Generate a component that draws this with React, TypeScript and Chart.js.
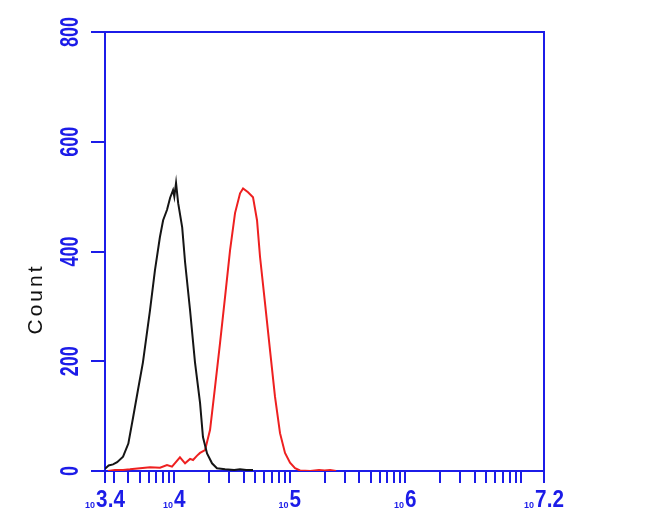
import React, { useEffect, useRef } from "react";
import { Chart, registerables } from "chart.js";

Chart.register(...registerables);

// ---- data (fluorescence intensity, count) ----
const BLACK_X = [2512, 2700, 2950, 3200, 3600, 4000, 4400, 4850, 5350, 6150, 6800, 7500, 8000, 8650, 9200, 9750, 10000, 10350, 10800, 11700, 12400, 13700, 15100, 16700, 17700, 19200, 21200, 23400, 27500, 33000, 37000, 42000, 48000];
const BLACK_Y = [4, 10, 12, 16, 26, 50, 98, 148, 198, 292, 366, 426, 457, 476, 498, 512, 500, 525, 488, 444, 380, 292, 198, 124, 62, 32, 14, 5, 3, 2, 3, 2, 2];

const RED_X = [2667, 3066, 3600, 4130, 5047, 6163, 7520, 8646, 9550, 11190, 12389, 13685, 14520, 15740, 16698, 18450, 20390, 22510, 24870, 27480, 30360, 33540, 37070, 39370, 43480, 47980, 51990, 55220, 60970, 67380, 74430, 82220, 90830, 100350, 110900, 122500, 150000, 179000, 200000, 222800, 251000];
const RED_Y = [0, 2, 2, 3, 5, 7, 6, 11, 8, 25, 14, 22, 20, 28, 33, 38, 75, 153, 233, 317, 402, 470, 506, 515, 508, 499, 457, 390, 306, 220, 135, 69, 33, 15, 5, 1, 0, 2, 1, 2, 0];

// ---- axes ----
const X_MIN = 2511.886;
const X_MAX = 15848932;
const X_TICKS = [2511.886, 3000, 4000, 5000, 6000, 7000, 8000, 9000,
  10000, 20000, 30000, 40000, 50000, 60000, 70000, 80000, 90000,
  100000, 200000, 300000, 400000, 500000, 600000, 700000, 800000, 900000,
  1000000, 2000000, 3000000, 4000000, 5000000, 6000000, 7000000, 8000000, 9000000,
  10000000, 15848932];
const X_LABEL_VALUES = [2511.886, 10000, 100000, 1000000, 15848932];
const X_LABEL_EXPONENTS = ["3.4", "4", "5", "6", "7.2"];
const Y_TICKS = [0, 200, 400, 600, 800];
const Y_TITLE = "Count";

const BLUE = "rgb(28,28,232)";

const labelPlugin = {
  id: "facsLabels",
  afterDraw(chart: any) {
    const ctx = chart.ctx as CanvasRenderingContext2D;
    const { left, right, top, bottom } = chart.chartArea;
    const xs = chart.scales.x;
    const ys = chart.scales.y;
    ctx.save();
    // top and right frame
    ctx.strokeStyle = BLUE;
    ctx.lineWidth = 2;
    ctx.beginPath();
    ctx.moveTo(left, top);
    ctx.lineTo(right, top);
    ctx.lineTo(right, bottom);
    ctx.stroke();

    // y tick labels (rotated, condensed)
    ctx.fillStyle = BLUE;
    ctx.font = "bold 25px 'Liberation Sans', Arial, sans-serif";
    ctx.textAlign = "center";
    ctx.textBaseline = "alphabetic";
    for (const v of Y_TICKS) {
      const py = ys.getPixelForValue(v);
      ctx.save();
      ctx.translate(70, py);
      ctx.rotate(-Math.PI / 2);
      ctx.scale(0.72, 1);
      ctx.fillText(String(v), 0, 0);
      ctx.restore();
    }

    // y title
    ctx.save();
    ctx.fillStyle = "#111";
    ctx.font = "21px 'Liberation Sans', Arial, sans-serif";
    (ctx as any).letterSpacing = "3px";
    ctx.translate(34, 291);
    ctx.rotate(-Math.PI / 2);
    ctx.textAlign = "center";
    ctx.fillText(Y_TITLE, 0, 0);
    ctx.restore();

    // x labels: small "10" + large exponent
    const expFont = "bold 23px 'Liberation Sans', Arial, sans-serif";
    const baseFont = "bold 9px 'Liberation Sans', Arial, sans-serif";
    const expScale = 0.9;
    ctx.textAlign = "left";
    X_LABEL_VALUES.forEach((v, i) => {
      const px = xs.getPixelForValue(v);
      const exp = X_LABEL_EXPONENTS[i];
      ctx.font = baseFont;
      const wb = ctx.measureText("10").width;
      ctx.font = expFont;
      const we = ctx.measureText(exp).width * expScale;
      const total = wb + 1 + we;
      const x0 = px - total / 2;
      ctx.font = baseFont;
      ctx.fillText("10", x0, 500);
      ctx.save();
      ctx.font = expFont;
      ctx.translate(x0 + wb + 1, 499);
      ctx.scale(expScale, 1);
      ctx.fillText(exp, 0, 0);
      ctx.restore();
    });
    ctx.restore();
  },
};

export default function App() {
  const ref = useRef<HTMLCanvasElement>(null);
  useEffect(() => {
    if (!ref.current) return;
    const chart = new Chart(ref.current, {
      type: "line",
      data: {
        datasets: [
          {
            label: "control",
            data: BLACK_X.map((x, i) => ({ x, y: BLACK_Y[i] })),
            borderColor: "#151515",
            borderWidth: 2,
            pointRadius: 0,
            tension: 0,
          },
          {
            label: "stained",
            data: RED_X.map((x, i) => ({ x, y: RED_Y[i] })),
            borderColor: "#ee2020",
            borderWidth: 2,
            pointRadius: 0,
            tension: 0,
          },
        ],
      },
      options: {
        responsive: false,
        animation: false,
        devicePixelRatio: 1,
        layout: { padding: { left: 0, top: 24, right: 98, bottom: 0 } },
        plugins: { legend: { display: false }, tooltip: { enabled: false } },
        scales: {
          x: {
            type: "logarithmic",
            min: X_MIN,
            max: X_MAX,
            afterBuildTicks: (axis: any) => {
              axis.ticks = X_TICKS.map((value) => ({ value }));
            },
            afterFit: (axis: any) => {
              axis.height = 41;
            },
            grid: { drawOnChartArea: false, drawTicks: true, tickLength: 12, color: BLUE, lineWidth: 2 },
            border: { display: true, color: BLUE, width: 2 },
            ticks: { display: false },
          },
          y: {
            type: "linear",
            min: 0,
            max: 800,
            afterBuildTicks: (axis: any) => {
              axis.ticks = Y_TICKS.map((value) => ({ value }));
            },
            afterFit: (axis: any) => {
              axis.width = 97;
            },
            grid: { drawOnChartArea: false, drawTicks: true, tickLength: 14, color: BLUE, lineWidth: 2 },
            border: { display: true, color: BLUE, width: 2 },
            ticks: { display: false },
          },
        },
      },
      plugins: [labelPlugin],
    });
    return () => chart.destroy();
  }, []);
  return <canvas ref={ref} width={634} height={504} style={{ display: "block" }} />;
}
